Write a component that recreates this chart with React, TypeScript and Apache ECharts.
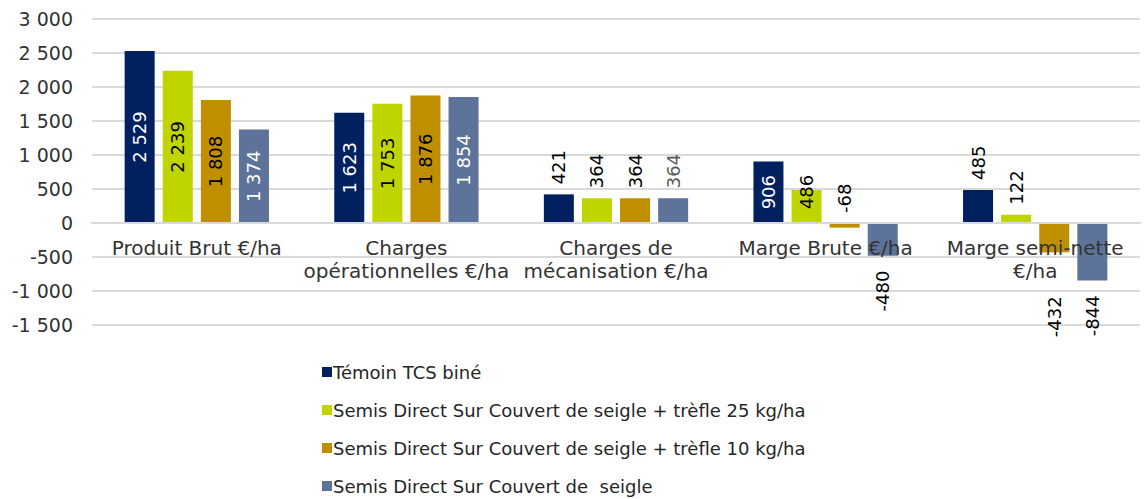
import React, { useEffect, useRef } from "react";
import * as echarts from "echarts";

const categories = [
  "Produit Brut €/ha",
  "Charges\nopérationnelles €/ha",
  "Charges de\nmécanisation €/ha",
  "Marge Brute €/ha",
  "Marge semi-nette\n€/ha",
];
const seriesNames = [
  "Témoin TCS biné",
  "Semis Direct Sur Couvert de seigle + trèfle 25 kg/ha",
  "Semis Direct Sur Couvert de seigle + trèfle 10 kg/ha",
  "Semis Direct Sur Couvert de  seigle",
];
const temoin = [2529, 1623, 421, 906, 485];
const trefle25 = [2239, 1753, 364, 486, 122];
const trefle10 = [1808, 1876, 364, -68, -432];
const seigle = [1374, 1854, 364, -480, -844];
const yTicks = { min: -1500, max: 3000, interval: 500 };

const colors = ["#002060", "#C0D500", "#BF8F00", "#5E7399"];
const insideColors = ["#ffffff", "#000000", "#000000", "#ffffff"];
// label placement per series (rows) and category (cols)
const labelModes = [
  ["inside", "inside", "top", "inside", "top"],
  ["inside", "inside", "top", "topCenter", "top"],
  ["inside", "inside", "top", "top", "bottomFar"],
  ["inside", "inside", "top", "bottom", "bottom"],
];

const FONT = "'DejaVu Sans', Verdana, sans-serif";
const GRID_TOP = 19;
const GRID_HEIGHT = 306;

function fmt(v: number): string {
  const s = Math.abs(v).toString().replace(/\B(?=(\d{3})+(?!\d))/g, " ");
  return (v < 0 ? "-" : "") + s;
}

function labelFor(si: number, ci: number) {
  const mode = labelModes[si][ci];
  const base: any = {
    show: true,
    rotate: 90,
    fontSize: 18,
    fontFamily: FONT,
    formatter: (p: any) => fmt(p.value),
  };
  if (mode === "inside") {
    return { ...base, position: "inside", color: insideColors[si], align: "center", verticalAlign: "middle" };
  }
  if (mode === "topCenter") {
    return { ...base, position: "top", distance: -2, color: "#000", align: "center", verticalAlign: "middle" };
  }
  if (mode === "top") {
    const c = si === 3 && ci === 2 ? "#595959" : "#000";
    return { ...base, position: "top", distance: 10, color: c, align: "left", verticalAlign: "middle" };
  }
  return {
    ...base,
    position: "bottom",
    distance: mode === "bottomFar" ? 44 : 15,
    color: "#000",
    align: "right",
    verticalAlign: "middle",
  };
}

export default function App() {
  const ref = useRef<HTMLDivElement>(null);
  useEffect(() => {
    document.body.style.margin = "0";
    const chart = echarts.init(ref.current!, null, { renderer: "svg" });
    const allData = [temoin, trefle25, trefle10, seigle];
    const series = allData.map((arr, si) => ({
      name: seriesNames[si],
      type: "bar",
      z: 2,
      barWidth: 30,
      barGap: "27%",
      itemStyle: { color: colors[si] },
      data: arr.map((v, ci) => ({ value: v, label: labelFor(si, ci) })),
    }));
    // place the category axis at value 0
    const zeroOffset = -GRID_HEIGHT * (0 - yTicks.min) / (yTicks.max - yTicks.min);
    chart.setOption({
      animation: false,
      textStyle: { fontFamily: FONT },
      grid: { left: 92, right: 7, top: GRID_TOP, height: GRID_HEIGHT, containLabel: false },
      legend: {
        orient: "vertical",
        left: 317,
        top: 358,
        height: 200,
        padding: 5,
        itemWidth: 10,
        itemHeight: 10,
        itemGap: 20,
        icon: "rect",
        data: seriesNames,
        textStyle: { fontSize: 18, color: "#262626", fontFamily: FONT, padding: [0, 0, 0, -4] },
      },
      xAxis: {
        type: "category",
        data: categories,
        z: 5,
        offset: zeroOffset,
        axisLine: {
          show: true,
          onZero: false,
          lineStyle: { color: "#d9d9d9", width: 2 },
        },
        axisTick: { show: false },
        axisLabel: {
          interval: 0,
          fontSize: 20,
          color: "#333",
          lineHeight: 23,
          margin: 13,
          fontFamily: FONT,
        },
      },
      yAxis: {
        type: "value",
        min: yTicks.min,
        max: yTicks.max,
        interval: yTicks.interval,
        axisLine: { show: false },
        axisTick: { show: false },
        splitLine: { lineStyle: { color: "#d9d9d9", width: 2 } },
        axisLabel: {
          fontSize: 19,
          color: "#333",
          margin: 19,
          fontFamily: FONT,
          formatter: (v: number) => fmt(v),
        },
      },
      series,
    });
    return () => chart.dispose();
  }, []);
  return <div ref={ref} style={{ width: 1147, height: 499 }} />;
}
